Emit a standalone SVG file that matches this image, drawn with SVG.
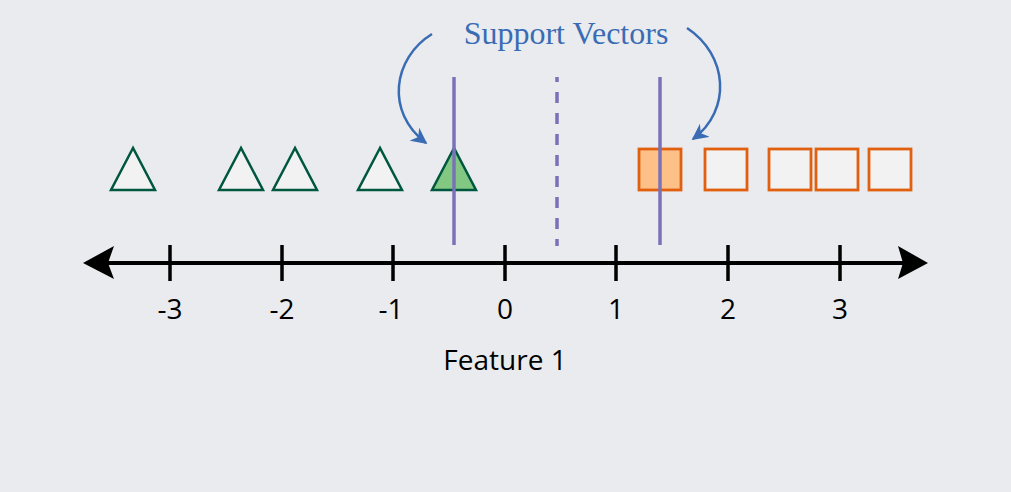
<svg xmlns="http://www.w3.org/2000/svg" width="1011" height="492" viewBox="0 0 1011 492">
<defs>
<style>
.tri{fill:#f2f2f2;stroke:#00573f;stroke-width:2.5;stroke-linejoin:miter}
.sq{fill:#f2f2f2;stroke:#e06010;stroke-width:2.8}
.sv{stroke:#7a72b8;stroke-width:3.5;fill:none}
.tick{stroke:#000;stroke-width:3.5}
.lbl{font-family:"Open Sans","DejaVu Sans",sans-serif;font-size:28px;fill:#000;text-anchor:middle}
.curve{fill:none;stroke:#3a6cb4;stroke-width:2.5}
</style>
<marker id="ah" viewBox="0 0 10 10" refX="9" refY="5" markerWidth="6.5" markerHeight="6.5" markerUnits="strokeWidth" orient="auto">
<path d="M0,0 L10,5 L0,10 L3,5 Z" fill="#3a6cb4"/>
</marker>
</defs>
<rect width="1011" height="492" fill="#e9ebef"/>
<g id="axis">
<line x1="95" y1="263" x2="915" y2="263" stroke="#000" stroke-width="4"/>
<path d="M83,263 L114,246 L108,263 L114,279 Z" fill="#000"/>
<path d="M928,263 L898,246 L903,263 L898,279 Z" fill="#000"/>
<line class="tick" x1="170" y1="245" x2="170" y2="281"/>
<line class="tick" x1="282" y1="245" x2="282" y2="281"/>
<line class="tick" x1="393" y1="245" x2="393" y2="281"/>
<line class="tick" x1="505" y1="245" x2="505" y2="281"/>
<line class="tick" x1="616" y1="245" x2="616" y2="281"/>
<line class="tick" x1="728" y1="245" x2="728" y2="281"/>
<line class="tick" x1="840" y1="245" x2="840" y2="281"/>
<text class="lbl" x="170" y="319">-3</text>
<text class="lbl" x="282" y="319">-2</text>
<text class="lbl" x="391" y="319">-1</text>
<text class="lbl" x="505" y="319">0</text>
<text class="lbl" x="616" y="319">1</text>
<text class="lbl" x="728" y="319">2</text>
<text class="lbl" x="840" y="319">3</text>
<text class="lbl" x="505" y="370">Feature 1</text>
</g>
<g id="triangles">
<polygon class="tri" points="133,148 111,190 155,190"/>
<polygon class="tri" points="241,148 219,190 263,190"/>
<polygon class="tri" points="295,148 273,190 317,190"/>
<polygon class="tri" points="380,148 358,190 402,190"/>
<polygon class="tri" points="454,148 432,190 476,190" style="fill:#82c882"/>
</g>
<g id="squares">
<rect class="sq" x="639" y="149" width="42" height="41" style="fill:#fdc086"/>
<rect class="sq" x="705" y="149" width="42" height="41"/>
<rect class="sq" x="769" y="149" width="42" height="41"/>
<rect class="sq" x="816" y="149" width="42" height="41"/>
<rect class="sq" x="869" y="149" width="42" height="41"/>
</g>
<g id="margins">
<line class="sv" x1="454" y1="77" x2="454" y2="245"/>
<line class="sv" x1="660" y1="77" x2="660" y2="245"/>
<line class="sv" x1="557" y1="77" x2="557" y2="246" stroke-width="5.5" stroke-dasharray="11 10" stroke-dashoffset="6"/>
</g>
<g id="label">
<text x="566" y="44" font-family="'Liberation Serif','DejaVu Serif',serif" font-size="32" fill="#3a6cb4" text-anchor="middle">Support Vectors</text>
</g>
<g id="connectors">
<path class="curve" d="M432,34 C393,58 385,112 426,143" marker-end="url(#ah)"/>
<path class="curve" d="M687,28 C728,55 732,110 693,139" marker-end="url(#ah)"/>
</g>
</svg>
